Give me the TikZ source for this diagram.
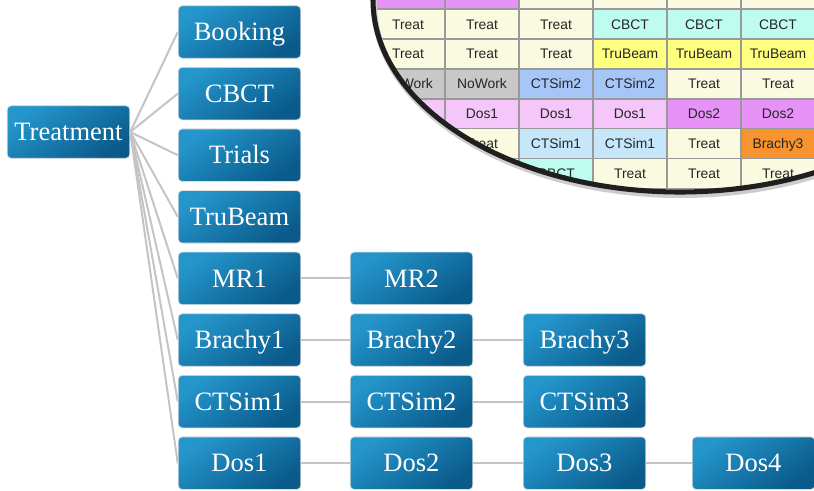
\documentclass[tikz,border=0pt]{standalone}
\usepackage{fontspec}
\setmainfont{Liberation Serif}
\setsansfont{Liberation Sans}
\usepackage{tikz}
\definecolor{boxtop}{RGB}{36,150,204}
\definecolor{boxbot}{RGB}{10,90,138}
\definecolor{linkgray}{RGB}{196,196,196}
\definecolor{cTreat}{RGB}{250,250,224}
\definecolor{cDos1}{RGB}{244,198,250}
\definecolor{cDos2}{RGB}{230,146,246}
\definecolor{cCBCT}{RGB}{190,252,240}
\definecolor{cTruBeam}{RGB}{255,255,128}
\definecolor{cNoWork}{RGB}{200,200,200}
\definecolor{cCTSim1}{RGB}{198,230,250}
\definecolor{cCTSim2}{RGB}{166,198,248}
\definecolor{cBrachy3}{RGB}{247,148,48}

\begin{document}
\begin{tikzpicture}[x=0.75pt, y=-0.75pt,
	blk/.style={rectangle, rounded corners=3pt, draw=black!12, line width=0.6pt,
		top color=boxtop, bottom color=boxbot, shading angle=35, text=white,
		minimum width=92pt, minimum height=39.5pt, inner sep=0pt,
		text height=13.1pt, text depth=0pt, font=\fontsize{19.9}{22}\selectfont},
	link/.style={draw=linkgray, line width=1.5pt},
	cell/.style={rectangle, draw=black!40, line width=1.2pt, minimum width=55.5pt,
		minimum height=22.4pt, inner sep=0pt, text=black!85, text height=7.4pt,
		text depth=0pt, font=\sffamily\fontsize{10.4}{12}\selectfont}]
				\useasboundingbox (0,0) rectangle (814,491);
				\begin{scope}
					\clip (680,0) ellipse [x radius=307, y radius=192];
					\foreach \row [count=\ri from 0] in {{Dos2,Dos2,Treat,Treat,Treat,Treat},
						{Treat,Treat,Treat,CBCT,CBCT,CBCT},
						{Treat,Treat,Treat,TruBeam,TruBeam,TruBeam},
						{NoWork,NoWork,CTSim2,CTSim2,Treat,Treat},
						{Dos1,Dos1,Dos1,Dos1,Dos2,Dos2},
						{Treat,Treat,CTSim1,CTSim1,Treat,Brachy3},
						{Treat,Treat,CBCT,Treat,Treat,Treat}} {
						\foreach \lab [count=\ci from 0] in \row {
							\node[cell, fill=c\lab] (t\ri-\ci) at (408+74*\ci, -5.6+29.83*\ri) {\lab};
						}
					}
				\end{scope}
				\draw[line width=4.5pt, black!20] (681,3) ellipse [x radius=307, y radius=192];
				\draw[line width=3.8pt, black!88] (680,0) ellipse [x radius=307, y radius=192];

				\node[blk] (treat) at (68.5,132) {Treatment};
				\node[blk] (booking) at (239.5,32) {Booking};
				\node[blk] (cbct) at (239.5,93.6) {CBCT};
				\node[blk] (trials) at (239.5,155.2) {Trials};
				\node[blk] (trubeam) at (239.5,216.8) {TruBeam};
				\node[blk] (mr1) at (239.5,278.4) {MR1};
				\node[blk] (brachy1) at (239.5,340) {Brachy1};
				\node[blk] (ctsim1) at (239.5,401.6) {CTSim1};
				\node[blk] (dos1) at (239.5,463.2) {Dos1};
				\node[blk] (mr2) at (411.5,278.4) {MR2};
				\node[blk] (brachy2) at (411.5,340) {Brachy2};
				\node[blk] (ctsim2) at (411.5,401.6) {CTSim2};
				\node[blk] (dos2) at (411.5,463.2) {Dos2};
				\node[blk] (brachy3) at (584.5,340) {Brachy3};
				\node[blk] (ctsim3) at (584.5,401.6) {CTSim3};
				\node[blk] (dos3) at (584.5,463.2) {Dos3};
				\node[blk] (dos4) at (753.5,463.2) {Dos4};

				\foreach \n in {booking,cbct,trials,trubeam,mr1,brachy1,ctsim1,dos1}
					\draw[link] (treat.east) -- (\n.west);
				\foreach \a/\b in {mr1/mr2,brachy1/brachy2,brachy2/brachy3,ctsim1/ctsim2,
					ctsim2/ctsim3,dos1/dos2,dos2/dos3,dos3/dos4}
					\draw[link] (\a.east) -- (\b.west);
			\end{tikzpicture}
\end{document}
